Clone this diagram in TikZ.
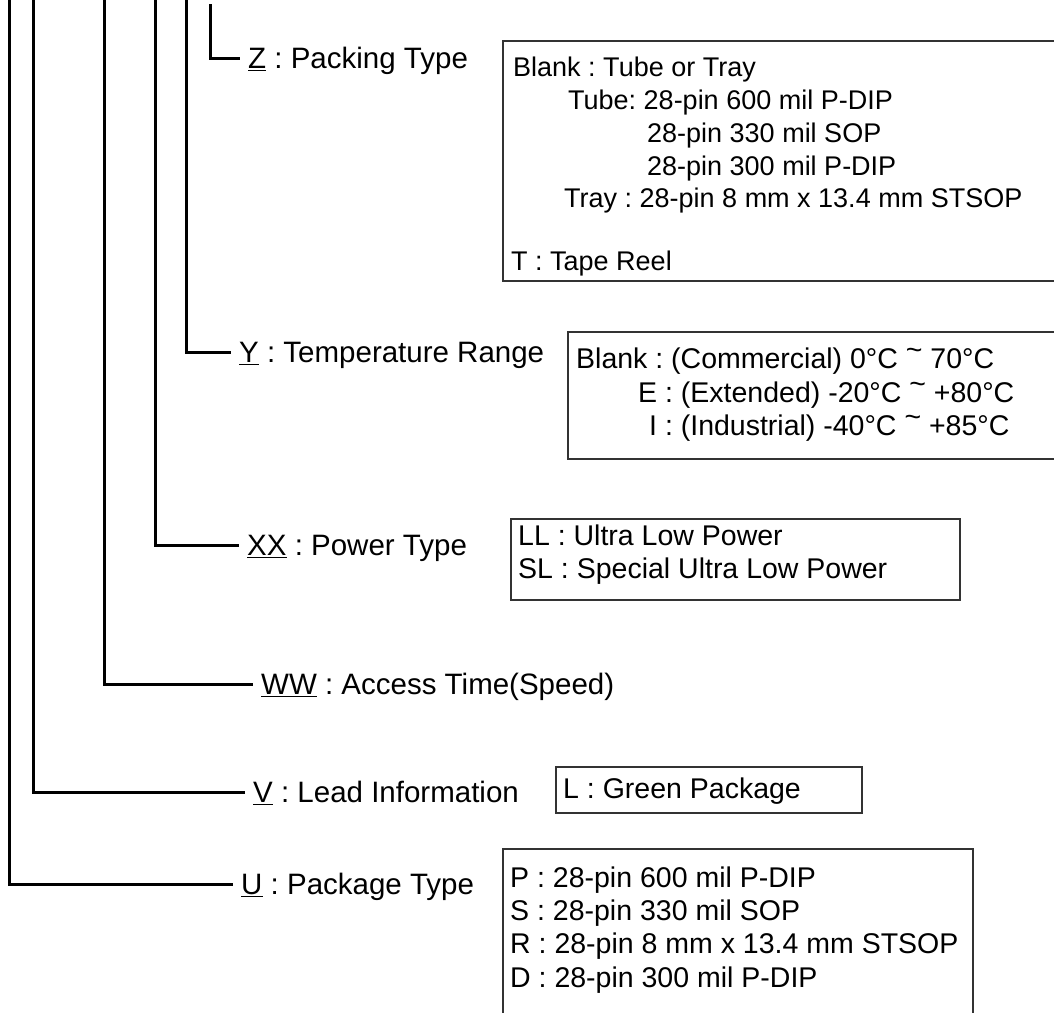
\documentclass[tikz,border=0pt]{standalone}
\usepackage{fontspec}
\setmainfont{Liberation Sans}
\tikzset{
  lead/.style={line width=3pt},
  infobox/.style={draw=black!80, line width=1.2pt},
  fieldlbl/.style={anchor=west, font=\fontsize{29.5}{34}\selectfont\frenchspacing, text height=21pt, text depth=0pt, inner ysep=0pt, inner xsep=8pt},
  choice/.style={anchor=base west, font=\fontsize{28.5}{33}\selectfont\frenchspacing, inner sep=0pt},
  smallchoice/.style={choice, font=\fontsize{27}{31}\selectfont\frenchspacing}
}
\newcommand{\tld}{\raisebox{.3em}{\textasciitilde}}
\begin{document}
\begin{tikzpicture}[x=1pt,y=-1pt]
\useasboundingbox (0,0) rectangle (1054,1012);
% top ends of the code letters
\coordinate (utop) at (9,0);
\coordinate (vtop) at (33,0);
\coordinate (wwtop) at (104,0);
\coordinate (xxtop) at (155,0);
\coordinate (ytop) at (186,0);
\coordinate (ztop) at (210,4);
% field names
\node[fieldlbl] (zlab) at (240,58) {\underline{Z} : Packing Type};
\node[fieldlbl] (ylab) at (231,352) {\underline{Y} : Temperature Range};
\node[fieldlbl] (xxlab) at (239,545) {\underline{XX} : Power Type};
\node[fieldlbl] (wwlab) at (253,684) {\underline{WW} : Access Time(Speed)};
\node[fieldlbl] (vlab) at (245,792) {\underline{V} : Lead Information};
\node[fieldlbl] (ulab) at (233,884) {\underline{U} : Package Type};
\draw[lead] (ztop) |- (zlab.west);
\draw[lead] (ytop) |- (ylab.west);
\draw[lead] (xxtop) |- (xxlab.west);
\draw[lead] (wwtop) |- (wwlab.west);
\draw[lead] (vtop) |- (vlab.west);
\draw[lead] (utop) |- (ulab.west);
% option boxes
\draw[infobox] (503,41) rectangle (1060,281);
\draw[infobox] (568,332) rectangle (1060,459);
\draw[infobox] (511,519) rectangle (960,600);
\draw[infobox] (556,767) rectangle (862,813);
\draw[infobox] (503,849) rectangle (973,1020);
% packing
\node[smallchoice] (z1) at (513,76) {Blank : Tube or Tray};
\node[smallchoice] (z2) at (568,109) {Tube: 28-pin 600 mil P-DIP};
\node[smallchoice] (z3) at (647,142) {28-pin 330 mil SOP};
\node[smallchoice] (z4) at (647,175) {28-pin 300 mil P-DIP};
\node[smallchoice] (z5) at (564,207) {Tray : 28-pin 8 mm x 13.4 mm STSOP};
\node[smallchoice] (z6) at (511,270) {T : Tape Reel};
% temperature
\node[choice] (y1) at (576,368) {Blank : (Commercial) 0°C \tld{} 70°C};
\node[choice] (y2) at (638,402) {E : (Extended) -20°C \tld{} +80°C};
\node[choice] (y3) at (649,435) {I : (Industrial) -40°C \tld{} +85°C};
% power
\node[choice] (xx1) at (518,545) {LL : Ultra Low Power};
\node[choice] (xx2) at (518,578) {SL : Special Ultra Low Power};
% lead
\node[choice] (v1) at (563,798) {L : Green Package};
% package
\node[choice] (u1) at (510,887) {P : 28-pin 600 mil P-DIP};
\node[choice] (u2) at (510,920) {S : 28-pin 330 mil SOP};
\node[choice] (u3) at (510,953) {R : 28-pin 8 mm x 13.4 mm STSOP};
\node[choice] (u4) at (510,987) {D : 28-pin 300 mil P-DIP};
\end{tikzpicture}
\end{document}
